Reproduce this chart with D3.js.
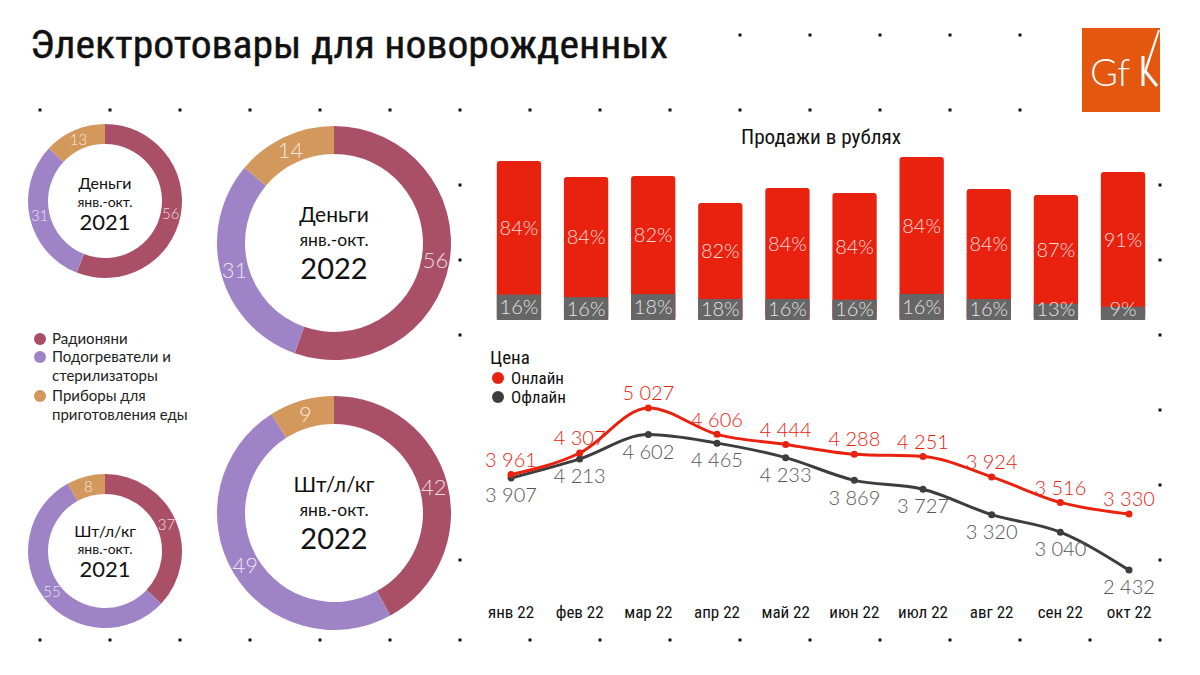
<!DOCTYPE html>
<html>
<head>
<meta charset="utf-8">
<script src="https://cdn.jsdelivr.net/npm/d3@7"></script>
<style>
  html, body { margin: 0; padding: 0; background: #fff; }
  svg { display: block; }
  .cond { font-family: "Liberation Sans Narrow", "Roboto Condensed", "Liberation Sans", sans-serif; }
  .lato { font-family: Lato, "Open Sans", sans-serif; }
</style>
</head>
<body>
<svg id="chart" width="1200" height="675"></svg>
<script>
// Структура (доли, %) по сегментам
const segmentos = ['Радионяни', 'Подогреватели и стерилизаторы', 'Приборы для приготовления еды'];
const dinheiro2021 = [56, 31, 13];
const dinheiro2022 = [56, 31, 14];
const unidades2021 = [37, 55, 8];
const unidades2022 = [42, 49, 9];

// Продажи в рублях по месяцам (индекс, июл 22 = 100)
const meses = ['янв 22', 'фев 22', 'мар 22', 'апр 22', 'май 22', 'июн 22', 'июл 22', 'авг 22', 'сен 22', 'окт 22'];
const vendasIndice = [97.5, 87.7, 88.3, 71.8, 81.0, 77.9, 100, 80.4, 76.7, 90.8];
const parteOnline = [84, 84, 82, 82, 84, 84, 84, 84, 87, 91];
const parteOffline = [16, 16, 18, 18, 16, 16, 16, 16, 13, 9];

// Цена, руб.
const precoOnline = [3961, 4307, 5027, 4606, 4444, 4288, 4251, 3924, 3516, 3330];
const precoOffline = [3907, 4213, 4602, 4465, 4233, 3869, 3727, 3320, 3040, 2432];

const coresSeg = ['#A94F68', '#9E84C6', '#D3985C'];
const vermelho = '#E8220F';
const cinza = '#666666';
const escuro = '#3D3D3D';

const svg = d3.select('#chart');
const fmt = v => d3.format(',')(v).replace(',', ' ');

// Точечная сетка на фоне
const pontos = [];
for (let k = 10; k <= 14; k++) pontos.push([40 + 70 * k, 35]);
for (let k = 0; k <= 14; k++) pontos.push([40 + 70 * k, 110]);
for (let k = 0; k <= 16; k++) pontos.push([40 + 70 * k, 640]);
[185, 260, 335, 410, 485, 560].forEach(y => pontos.push([1160, y]));
[185, 260, 335, 560].forEach(y => pontos.push([460, y]));
svg.append('g').selectAll('rect').data(pontos).enter().append('rect')
  .attr('x', d => d[0] - 1.5).attr('y', d => d[1] - 1.5)
  .attr('width', 3).attr('height', 3).attr('fill', '#111');

// Заголовок
svg.append('text').attr('class', 'cond')
  .attr('x', 30).attr('y', 58)
  .attr('textLength', 638).attr('lengthAdjust', 'spacingAndGlyphs')
  .style('font-size', '38px').attr('fill', '#111')
  .attr('stroke', '#111').attr('stroke-width', 0.4)
  .text('Электротовары для новорожденных');

// Логотип GfK
const logo = svg.append('g');
logo.append('rect').attr('x', 1082).attr('y', 28).attr('width', 78).attr('height', 84).attr('fill', '#E3570F');
logo.append('text').attr('x', 1090).attr('y', 86).attr('class', 'lato')
  .style('font-size', '38px').style('font-weight', 300).attr('fill', '#fff').text('Gf');
logo.append('line').attr('x1', 1143).attr('y1', 56).attr('x2', 1143).attr('y2', 86)
  .attr('stroke', '#fff').attr('stroke-width', 3);
logo.append('path').attr('d', 'M1144,71 L1158,30 L1160,30 L1146,73 Z').attr('fill', '#fff');
logo.append('line').attr('x1', 1145).attr('y1', 71).attr('x2', 1157).attr('y2', 86)
  .attr('stroke', '#fff').attr('stroke-width', 3);

// Кольцевые диаграммы
function donut(valores, cx, cy, rOut, rIn, linhas, tamanhos, tamRotulo) {
  const g = svg.append('g').attr('transform', `translate(${cx},${cy})`);
  const pie = d3.pie().sort(null).value(d => d);
  const arc = d3.arc().innerRadius(rIn).outerRadius(rOut);
  const arcos = pie(valores);
  g.selectAll('path').data(arcos).enter().append('path')
    .attr('d', arc).attr('fill', (d, i) => coresSeg[i]);
  g.selectAll('text.rot').data(arcos).enter().append('text')
    .attr('class', 'rot lato')
    .attr('transform', d => `translate(${arc.centroid(d)})`)
    .attr('text-anchor', 'middle').attr('dy', '0.36em')
    .style('font-size', tamRotulo + 'px').style('font-weight', 300)
    .attr('fill', 'rgba(255,255,255,0.8)')
    .text(d => d.data);
  linhas.forEach((t, i) => {
    g.append('text').attr('class', 'lato').attr('text-anchor', 'middle')
      .attr('y', tamanhos[i][1]).style('font-size', tamanhos[i][0] + 'px')
      .attr('fill', '#111').text(t);
  });
}
donut(dinheiro2021, 105, 201, 77, 57, ['Деньги', 'янв.-окт.', '2021'], [[16, -12], [14, 6], [22, 29]], 15);
donut(dinheiro2022, 334, 243, 117, 89, ['Деньги', 'янв.-окт.', '2022'], [[21, -21], [17.5, 3], [29, 36]], 22);
donut(unidades2021, 105, 551, 77, 57, ['Шт/л/кг', 'янв.-окт.', '2021'], [[16, -14], [14, 3], [22, 26]], 15);
donut(unidades2022, 334, 513, 117, 89, ['Шт/л/кг', 'янв.-окт.', '2022'], [[21, -21], [17.5, 3], [29, 36]], 22);

// Легенда сегментов
const legenda = svg.append('g').attr('class', 'lato');
const itensLeg = [
  { cor: coresSeg[0], linhas: ['Радионяни'], y: 339 },
  { cor: coresSeg[1], linhas: ['Подогреватели и', 'стерилизаторы'], y: 357 },
  { cor: coresSeg[2], linhas: ['Приборы для', 'приготовления еды'], y: 396 }
];
itensLeg.forEach(it => {
  legenda.append('circle').attr('cx', 40).attr('cy', it.y).attr('r', 6).attr('fill', it.cor);
  it.linhas.forEach((t, j) => {
    legenda.append('text').attr('x', 52).attr('y', it.y + j * 19).attr('dy', '0.35em')
      .style('font-size', '15px').attr('fill', '#222').text(t);
  });
});

// Продажи в рублях — столбцы
svg.append('text').attr('class', 'cond').attr('x', 821).attr('y', 144)
  .attr('text-anchor', 'middle').style('font-size', '20px').attr('fill', '#111')
  .attr('textLength', 160).attr('lengthAdjust', 'spacingAndGlyphs')
  .text('Продажи в рублях');

const xb = d3.scaleBand().domain(meses).range([474, 1168]).padding(0.34);
const yb = d3.scaleLinear().domain([0, 100]).range([320, 157]);
const barras = meses.map((m, i) => ({
  mes: m, total: vendasIndice[i], on: parteOnline[i], off: parteOffline[i],
  offVal: vendasIndice[i] * parteOffline[i] / (parteOnline[i] + parteOffline[i])
}));
const gb = svg.append('g');
gb.selectAll('rect.on').data(barras).enter().append('rect')
  .attr('x', d => xb(d.mes)).attr('width', xb.bandwidth())
  .attr('y', d => yb(d.total)).attr('height', d => yb(0) - yb(d.total))
  .attr('rx', 3).attr('fill', vermelho);
gb.selectAll('rect.off').data(barras).enter().append('rect')
  .attr('x', d => xb(d.mes)).attr('width', xb.bandwidth())
  .attr('y', d => yb(d.offVal)).attr('height', d => yb(0) - yb(d.offVal))
  .attr('fill', cinza);
gb.selectAll('text.on').data(barras).enter().append('text').attr('class', 'lato')
  .attr('x', d => xb(d.mes) + xb.bandwidth() / 2)
  .attr('y', d => (yb(d.total) + yb(d.offVal)) / 2).attr('dy', '0.36em')
  .attr('text-anchor', 'middle').style('font-size', '20px').style('font-weight', 300)
  .attr('fill', 'rgba(255,255,255,0.85)').text(d => d.on + '%');
gb.selectAll('text.off').data(barras).enter().append('text').attr('class', 'lato')
  .attr('x', d => xb(d.mes) + xb.bandwidth() / 2)
  .attr('y', d => Math.min((yb(d.offVal) + yb(0)) / 2, 309)).attr('dy', '0.36em')
  .attr('text-anchor', 'middle').style('font-size', '20px').style('font-weight', 300)
  .attr('fill', 'rgba(255,255,255,0.85)').text(d => d.off + '%');

// Цена — линии
const xl = d3.scalePoint().domain(meses).range([511, 1129]);
const yl = d3.scaleLinear().domain([2000, 5500]).range([597.1, 378.5]);
const linha = d3.line().x((d, i) => xl(meses[i])).y(d => yl(d)).curve(d3.curveMonotoneX);

const gl = svg.append('g');
gl.append('text').attr('class', 'cond').attr('x', 490).attr('y', 357).attr('dy', '0.35em')
  .style('font-size', '19px').attr('fill', '#111').text('Цена');
[['Онлайн', vermelho, 378], ['Офлайн', escuro, 397]].forEach(([t, c, y]) => {
  gl.append('circle').attr('cx', 498).attr('cy', y).attr('r', 6).attr('fill', c);
  gl.append('text').attr('class', 'cond').attr('x', 511).attr('y', y).attr('dy', '0.35em')
    .style('font-size', '17px').attr('fill', '#111').text(t);
});

[[precoOffline, escuro], [precoOnline, vermelho]].forEach(([serie, cor]) => {
  gl.append('path').datum(serie).attr('d', linha)
    .attr('fill', 'none').attr('stroke', cor).attr('stroke-width', 3);
  gl.selectAll(null).data(serie).enter().append('circle')
    .attr('cx', (d, i) => xl(meses[i])).attr('cy', d => yl(d)).attr('r', 3.5).attr('fill', cor);
});

gl.selectAll('text.vOn').data(precoOnline).enter().append('text').attr('class', 'lato')
  .attr('x', (d, i) => xl(meses[i])).attr('y', d => yl(d) - 15).attr('dy', '0.36em')
  .attr('text-anchor', 'middle').style('font-size', '20px').style('font-weight', 300)
  .attr('fill', vermelho).text(fmt);
gl.selectAll('text.vOff').data(precoOffline).enter().append('text').attr('class', 'lato')
  .attr('x', (d, i) => xl(meses[i])).attr('y', d => yl(d) + 17).attr('dy', '0.36em')
  .attr('text-anchor', 'middle').style('font-size', '20px').style('font-weight', 300)
  .attr('fill', '#555').text(fmt);

// Подписи месяцев
gl.selectAll('text.mes').data(meses).enter().append('text').attr('class', 'cond')
  .attr('x', d => xl(d)).attr('y', 612).attr('dy', '0.35em')
  .attr('text-anchor', 'middle').style('font-size', '17px').attr('fill', '#111')
  .text(d => d);
</script>
</body>
</html>
